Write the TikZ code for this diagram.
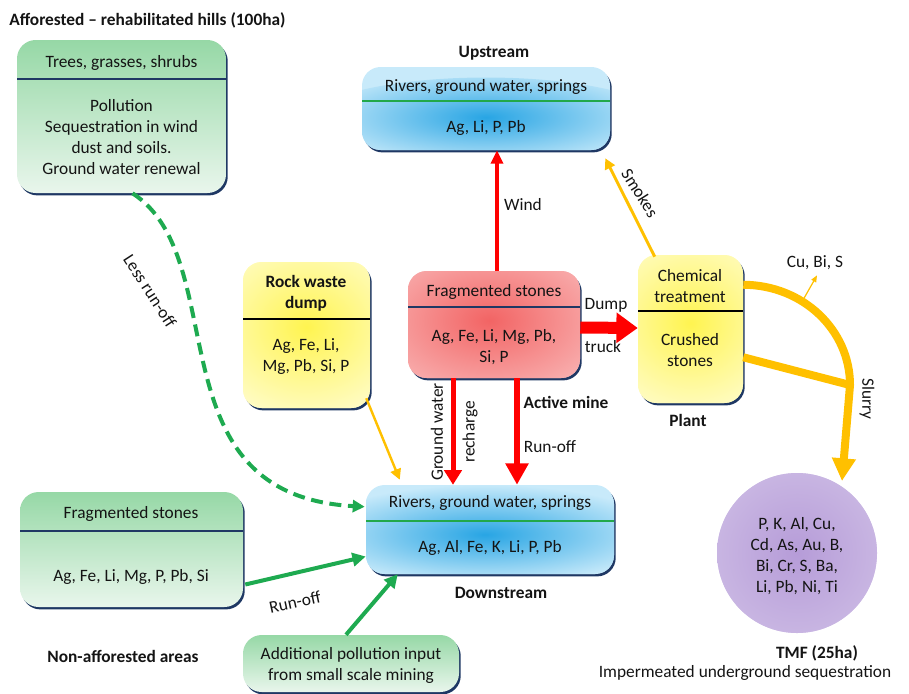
\documentclass[tikz,border=0pt]{standalone}
\usepackage{fontspec}
\setmainfont{Carlito}
\usetikzlibrary{arrows.meta,shadows,calc,fit}
\definecolor{navy}{HTML}{1F3864}
\definecolor{grtop}{RGB}{150,216,166}
\definecolor{grbot}{RGB}{233,246,236}
\definecolor{grline}{RGB}{34,168,74}
\definecolor{grarrow}{RGB}{30,170,80}
\definecolor{bluefill}{RGB}{200,234,250}
\definecolor{bluespot}{RGB}{40,165,228}
\definecolor{yelfill}{RGB}{255,252,200}
\definecolor{yelspot}{RGB}{255,244,80}
\definecolor{redfill}{RGB}{250,192,192}
\definecolor{redspot}{RGB}{242,100,100}
\definecolor{purfill}{RGB}{218,206,236}
\definecolor{purspot}{RGB}{182,156,216}
\definecolor{orng}{RGB}{255,192,0}
\definecolor{txt}{RGB}{20,20,20}
\begin{document}
\begin{tikzpicture}[x=0.75pt,y=-0.75pt,
  font=\fontsize{13}{15.75}\selectfont, text=txt,
  box/.style={rectangle, rounded corners=14pt, inner sep=0pt,
    general shadow={fill=navy, shadow xshift=1.3pt, shadow yshift=-1.8pt}},
  greenbox/.style={box, top color=grtop, bottom color=grbot},
  spot/.style n args={5}{fill=#2, path picture={\shade[inner color=#1, outer color=#2]
      ($(path picture bounding box.center)+(#3)$) ellipse (#4 and #5);}},
  lbl/.style={inner sep=0pt, align=center},
  blbl/.style={lbl, font=\fontsize{13}{15.75}\selectfont\bfseries},
  divn/.style={navy, line width=1.6pt},
  divk/.style={black, line width=1.6pt},
  divg/.style={grline, line width=1.6pt},
  redarrow/.style={red, line width=#1},
  orarrow/.style={orng, line width=#1},
  grnarrow/.style={grarrow, line width=3pt, -{Triangle[length=10pt,width=10pt]}},
]
\useasboundingbox (0,0) rectangle (909,693);

% ---------- boxes ----------
\node[greenbox, fit={(17,40) (226,193)}] (trees) {};
\node[box, spot={bluespot}{bluefill}{0,14}{180}{45}, fit={(362,67) (610,150)}] (up) {};
\node[box, spot={yelspot}{yelfill}{0,-8}{110}{95}, fit={(243,262) (370,408)}] (rock) {};
\node[box, spot={redspot}{redfill}{-5,-4}{150}{95}, fit={(408,271) (580,378)}] (frag) {};
\node[box, spot={yelspot}{yelfill}{0,-6}{100}{95}, fit={(638,255) (743,403)}] (plant) {};
\node[box, spot={bluespot}{bluefill}{-5,5}{180}{50}, fit={(366,485) (614,574)}] (down) {};
\node[greenbox, fit={(20,492) (243,607)}] (fragg) {};
\node[greenbox, fit={(243,635) (459,692)}] (add) {};
\node[circle, spot={purspot}{purfill}{0,0}{160}{160}, minimum size=120pt, inner sep=0pt] (tmf) at (797,553) {};

% ---------- dividers ----------
\draw[divn] (17,79) -- (226,79);
\draw[divg] (362,101) -- (610,101);
\draw[divk] (243,319) -- (370,319);
\draw[divn] (408,307) -- (580,307);
\draw[divk] (638,311) -- (743,311);
\draw[divg] (366,521) -- (614,521);
\draw[divn] (20,531) -- (243,531);

% ---------- texts ----------
\node[blbl, anchor=west] (title) at (9,20) {Afforested – rehabilitated hills (100ha)};
\node[lbl] (treesh) at (121.5,63) {Trees, grasses, shrubs};
\node[lbl] (treesb) at (121.5,137) {Pollution\\Sequestration in wind\\dust and soils.\\Ground water renewal};
\node[blbl] (upl) at (494,53) {Upstream};
\node[lbl] (uph) at (486,87) {Rivers, ground water, springs};
\node[lbl] (upb) at (486,128) {Ag, Li, P, Pb};
\node[blbl] (rockh) at (306,293) {Rock waste\\dump};
\node[lbl] (rockb) at (306,357) {Ag, Fe, Li,\\Mg, Pb, Si, P};
\node[lbl] (fragh) at (494,292) {Fragmented stones};
\node[lbl] (fragb) at (494,347) {Ag, Fe, Li, Mg, Pb,\\Si, P};
\node[lbl] (planth) at (690,286) {Chemical\\treatment};
\node[lbl] (plantb) at (690,350) {Crushed\\stones};
\node[blbl] (plantl) at (688,420) {Plant};
\node[blbl] (mine) at (566,402) {Active mine};
\node[lbl] (downh) at (490,503) {Rivers, ground water, springs};
\node[lbl] (downb) at (490,548) {Ag, Al, Fe, K, Li, P, Pb};
\node[blbl] (downl) at (501,593) {Downstream};
\node[lbl] (fraggh) at (131,514) {Fragmented stones};
\node[lbl] (fraggb) at (131,577) {Ag, Fe, Li, Mg, P, Pb, Si};
\node[blbl] (nonaf) at (123,656) {Non-afforested areas};
\node[lbl] (addt) at (351,665.5) {Additional pollution input\\from small scale mining};
\node[lbl] (tmft) at (797,556) {P, K, Al, Cu,\\Cd, As, Au, B,\\Bi, Cr, S, Ba,\\Li, Pb, Ni, Ti};
\node[blbl] (tmfl) at (817,653) {TMF (25ha)};
\node[lbl] (tmfs) at (745,673) {Impermeated underground sequestration};

% ---------- connector labels ----------
\node[lbl] (windl) at (523,205) {Wind};
\node[lbl, rotate=-58] (smokel) at (640,193) {Smokes};
\node[lbl] (dumpl) at (606,305) {Dump};
\node[lbl] (truckl) at (603,347) {truck};
\node[lbl, rotate=90] (gwl) at (437,432) {Ground water};
\node[lbl, rotate=90] (rchl) at (470,432) {recharge};
\node[lbl] (runl) at (550,447) {Run-off};
\node[lbl] (cul) at (815,263) {Cu, Bi, S};
\node[lbl, rotate=-90] (slurl) at (867,399) {Slurry};
\node[lbl, rotate=-57] (lessl) at (150,291) {Less run-off};
\node[lbl, rotate=12] (rung) at (295,602) {Run-off};

% ---------- connectors ----------
\coordinate (windx) at (497,0);
\coordinate (gwx) at (453,0);
\coordinate (rox) at (517,0);
\coordinate (sj) at (850,385);
\coordinate (slurend) at (842,481);
\coordinate (cus) at (803,300);

\draw[redarrow=3pt, -{Triangle[length=10pt,width=9pt]}] (frag.north -| windx) -- (up.south -| windx);
\draw[redarrow=9pt, -{Triangle[length=16pt,width=22pt]}] ($(frag.east)+(0,3)$) -- ($(plant.west)+(0,-1)$);
\draw[redarrow=3.75pt, -{Triangle[length=11pt,width=13pt]}] (frag.south -| gwx) -- (down.north -| gwx);
\draw[redarrow=4.5pt, -{Triangle[length=16pt,width=16.5pt]}] (frag.south -| rox) -- (down.north -| rox);

\draw[orarrow=2.2pt, -{Triangle[length=8pt,width=8pt]}] ($(plant.north west)+(17,2)$) -- ($(up.south east)+(-5,8)$);
\draw[orarrow=1.8pt, -{Triangle[length=8pt,width=8pt]}] ($(rock.south east)+(-4,-10)$) -- ($(down.north west)+(34,-5)$);

\draw[grarrow, line width=3pt, dash pattern=on 9pt off 5pt, -{Triangle[length=9pt,width=9pt]}]
  ($(trees.south)+(11,0)$) .. controls (235,260) and (150,495) .. ($(down.north west)+(-1,22)$);
\draw[grnarrow] ($(fragg.east)+(2,35)$) -- ($(down.west)+(0,27)$);
\draw[grnarrow] ($(add.north)+(-5,0)$) -- ($(down.south west)+(32,0)$);

\draw[orarrow=6pt, -{Triangle[length=17pt,width=17pt]}]
  ($(plant.north east)+(0,30)$) .. controls (803,285) and (850,330) .. (sj) -- (slurend);
\draw[orarrow=6pt] ($(plant.south east)+(0,-46)$) -- (sj);
\draw[orarrow=0.9pt, -{Triangle[length=5pt,width=4pt]}] (cus) -- ($(cul.south)+(2,5)$);
\end{tikzpicture}
\end{document}
